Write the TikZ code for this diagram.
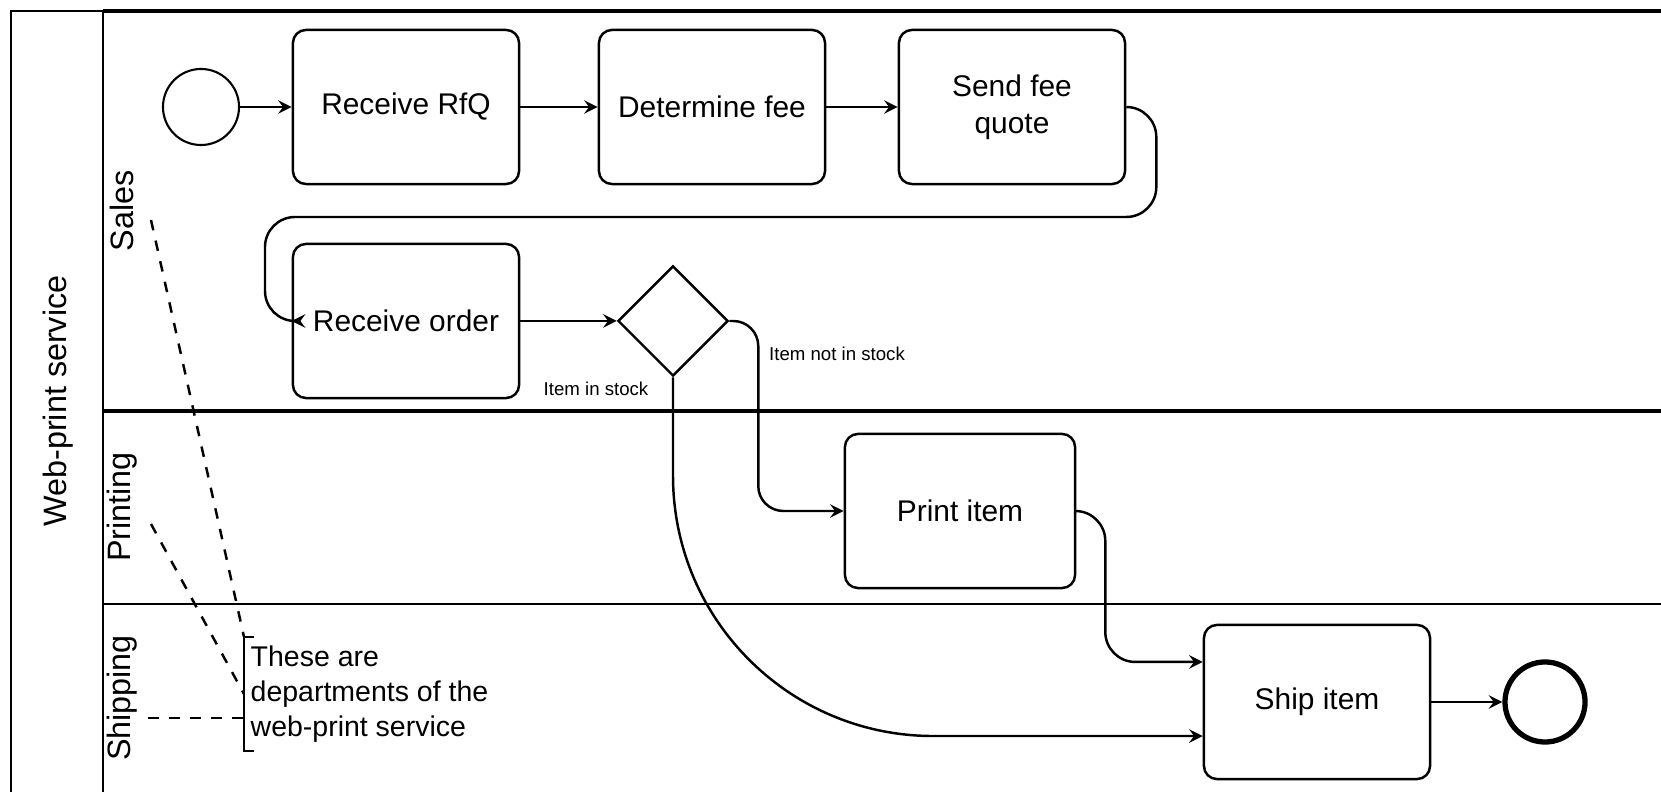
\documentclass[tikz,border=0pt]{standalone}
\usepackage{fontspec}
\setmainfont{Liberation Sans}
\usepackage{tikz}
\usetikzlibrary{shapes.geometric}
\usetikzlibrary{arrows.meta}

\begin{document}
\begin{tikzpicture}[x=0.01cm,y=-0.01cm,
    task/.style={draw,rounded corners=0.13cm,line width=0.7pt,
      minimum width=2.26cm,minimum height=1.54cm,align=center,
      font=\fontsize{8.5}{10.5}\selectfont},
    event/.style={draw,circle,minimum size=0.76cm,inner sep=0pt,line width=0.6pt},
    gate/.style={draw,diamond,line width=0.7pt,minimum width=1.1cm,
      minimum height=1.1cm,inner sep=0pt},
    flow/.style={->,>=stealth,line width=0.7pt},
    assoc/.style={dashed,line width=0.7pt},
    lanelabel/.style={rotate=90,font=\fontsize{9.2}{11}\selectfont},
    condlabel/.style={font=\fontsize{5.3}{6}\selectfont,inner sep=0pt}]
        \useasboundingbox (0,0) rectangle (1661,792);

        % --- pool and lanes ---
        \draw[line width=0.6pt] (103,11) -- (11,11) -- (11,792);
        \draw[line width=0.8pt] (103,11) -- (103,792);
        \draw[line width=1.2pt] (103,11) -- (1661,11);
        \draw[line width=1.2pt] (103,411) -- (1661,411);
        \draw[line width=0.7pt] (103,604) -- (1661,604);

        \node[lanelabel] (pool) at (58,401) {Web-print service};
        \node[lanelabel] (sales) at (122,211) {Sales};
        \node[lanelabel] (printing) at (122,507) {Printing};
        \node[lanelabel] (shipping) at (122,698) {Shipping};

        % --- events, tasks, gateway ---
        \node[event] (start) at (201,107) {};
        \node[task] (rfq) at (406,107) {Receive RfQ};
        \node[task] (fee) at (712,107) {Determine fee};
        \node[task] (quote) at (1012,107) {Send fee\\quote};
        \node[task] (order) at (406,321) {Receive order};
        \node[gate] (stock) at (673,321) {};
        \node[task,minimum width=2.3cm] (print) at (960,511) {Print item};
        \node[task] (ship) at (1317,702) {Ship item};
        \node[event,minimum size=0.8cm,line width=1.5pt] (stop) at (1545,702) {};

        % --- sequence flows ---
        \coordinate (loop) at (265,217);
        \draw[flow] (start) -- (rfq);
        \draw[flow] (rfq) -- (fee);
        \draw[flow] (fee) -- (quote);
        \draw[flow,rounded corners=0.3cm] (quote.east) -- ++(30,0) |- (loop) |- (order.west);
        \draw[flow] (order) -- (stock);
        \draw[flow,rounded corners=0.25cm] (stock.east) -- ++(29,0) |- (print.west);
        \draw[flow,rounded corners=2.6cm] (stock.south) |- ([yshift=-0.34cm]ship.west);
        \draw[flow,rounded corners=0.3cm] (print.east) -- ++(29,0) |- ([yshift=0.4cm]ship.west);
        \draw[flow] (ship) -- (stop);

        % conditions
        \node[condlabel] (instock) at (596,389) {Item in stock};
        \node[condlabel] (notinstock) at (837,354) {Item not in stock};

        % --- annotation ---
        \node[anchor=west,align=left,inner xsep=0.06cm,inner ysep=0.08cm,
          font=\fontsize{8.1}{10}\selectfont] (note) at (244,694)
          {These are\\departments of the\\web-print service};
        \draw[line width=0.6pt] ([xshift=0.1cm]note.north west) -- (note.north west)
          -- (note.south west) -- ([xshift=0.1cm]note.south west);

        \coordinate (salesA) at (151,220);
        \coordinate (printA) at (151,524);
        \coordinate (shipA) at (148,718);
        \draw[assoc] (salesA) -- (note.north west);
        \draw[assoc] (printA) -- (note.west);
        \draw[assoc] (shipA) -- (shipA -| note.west);
      \end{tikzpicture}
\end{document}
